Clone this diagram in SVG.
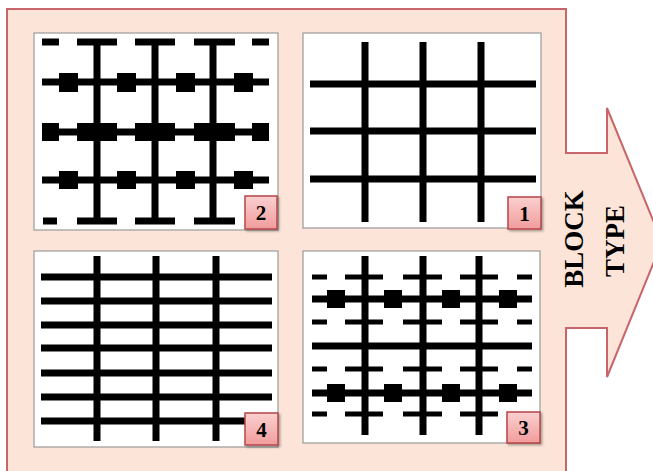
<svg xmlns="http://www.w3.org/2000/svg" width="653" height="471" viewBox="0 0 653 471">
<defs>
<linearGradient id="lg" x1="0" y1="0" x2="0" y2="1">
<stop offset="0" stop-color="#FAD0D0"/>
<stop offset="1" stop-color="#F29C9C"/>
</linearGradient>
<filter id="sh" x="-20%" y="-20%" width="150%" height="150%">
<feDropShadow dx="1.5" dy="1.5" stdDeviation="1" flood-color="#000" flood-opacity="0.35"/>
</filter>
</defs>
<style>
.panel{fill:#fff;stroke:#9a9a9a;stroke-width:1.2}
.ln{stroke:#000;stroke-width:7;fill:none}
.ds{stroke:#000;stroke-width:5;fill:none}
.sq{fill:#000}
.lbl{fill:url(#lg);stroke:#B5474A;stroke-width:1.5;filter:url(#sh)}
.lt{font-family:"Liberation Serif",serif;font-weight:bold;font-size:21px;fill:#000;text-anchor:middle}
.bt{font-family:"Liberation Serif",serif;font-weight:bold;font-size:27px;fill:#000;text-anchor:middle}
</style>
<rect width="653" height="471" fill="#fff"/>
<g id="background">
<path d="M7,9 H566 V153 H607 V108 L662,242 L607,377 V328 H566 V480 H7 Z" fill="#FCE5D8" stroke="#C8656A" stroke-width="2"/>
</g>
<g id="panel2">
<rect class="panel" x="34" y="33" width="244" height="197"/>
<path class="ln" d="M97,42 V221 M155,42 V221 M213,42 V221"/>
<path class="ln" d="M42,42 H59 M77,42 H117 M135,42 H175 M194,42 H235 M252,42 H269"/>
<path class="ln" d="M43,221 H57 M77,221 H117 M135,221 H175 M194,221 H235"/>
<path class="ln" d="M42,82 H269 M42,132 H269 M42,180 H269"/>
<rect class="sq" x="59" y="73" width="19" height="19"/>
<rect class="sq" x="117" y="73" width="19" height="19"/>
<rect class="sq" x="176" y="73" width="19" height="19"/>
<rect class="sq" x="234" y="73" width="19" height="19"/>
<rect class="sq" x="59" y="171" width="19" height="18"/>
<rect class="sq" x="117" y="171" width="19" height="18"/>
<rect class="sq" x="176" y="171" width="19" height="18"/>
<rect class="sq" x="234" y="171" width="19" height="18"/>
<rect class="sq" x="42" y="123" width="17" height="18"/>
<rect class="sq" x="77" y="123" width="40" height="18"/>
<rect class="sq" x="135" y="123" width="40" height="18"/>
<rect class="sq" x="194" y="123" width="41" height="18"/>
<rect class="sq" x="252" y="123" width="17" height="18"/>
<rect class="lbl" x="245" y="196" width="32" height="33"/>
<text class="lt" x="261" y="220">2</text>
</g>
<g id="panel1">
<rect class="panel" x="303" y="33" width="238" height="195"/>
<path class="ln" d="M365,42 V222 M423,42 V222 M481,42 V222"/>
<path class="ln" d="M310,84 H536 M310,131 H536 M310,179 H536"/>
<rect class="lbl" x="508" y="197" width="33" height="32"/>
<text class="lt" x="524.5" y="221">1</text>
</g>
<g id="panel4">
<rect class="panel" x="34" y="251" width="244" height="196"/>
<path class="ln" d="M97,256 V441 M156,256 V441 M216,256 V441"/>
<path class="ln" d="M41,277 H272 M41,301 H272 M41,325 H272 M41,348 H272 M41,373 H272 M41,397 H272 M41,421 H272"/>
<rect class="lbl" x="245" y="413" width="33" height="32"/>
<text class="lt" x="261.5" y="437">4</text>
</g>
<g id="panel3">
<rect class="panel" x="303" y="251" width="237" height="192"/>
<path class="ln" d="M365,256 V435 M423,256 V435 M479,256 V435"/>
<path class="ln" d="M312,346 H532 M312,299 H532 M312,393 H532"/>
<path class="ds" d="M312,277 H327 M345,277 H383 M403,277 H442 M460,277 H498 M517,277 H532"/>
<path class="ds" d="M312,322 H327 M345,322 H383 M403,322 H442 M460,322 H498 M517,322 H532"/>
<path class="ds" d="M312,369 H327 M345,369 H383 M403,369 H442 M460,369 H498 M517,369 H532"/>
<path class="ds" d="M312,414 H327 M345,414 H383 M403,414 H442 M460,414 H498"/>
<rect class="sq" x="327" y="290" width="18" height="18"/>
<rect class="sq" x="384" y="290" width="18" height="18"/>
<rect class="sq" x="442" y="290" width="18" height="18"/>
<rect class="sq" x="499" y="290" width="18" height="18"/>
<rect class="sq" x="327" y="384" width="18" height="18"/>
<rect class="sq" x="384" y="384" width="18" height="18"/>
<rect class="sq" x="442" y="384" width="18" height="18"/>
<rect class="sq" x="499" y="384" width="18" height="18"/>
<rect class="lbl" x="507" y="412" width="33" height="31"/>
<text class="lt" x="523.5" y="435">3</text>
</g>
<g id="arrow-label">
<text class="bt" transform="translate(583,239) rotate(-90)">BLOCK</text>
<text class="bt" transform="translate(624,241) rotate(-90)">TYPE</text>
</g>
<g id="connectors"/>
</svg>
